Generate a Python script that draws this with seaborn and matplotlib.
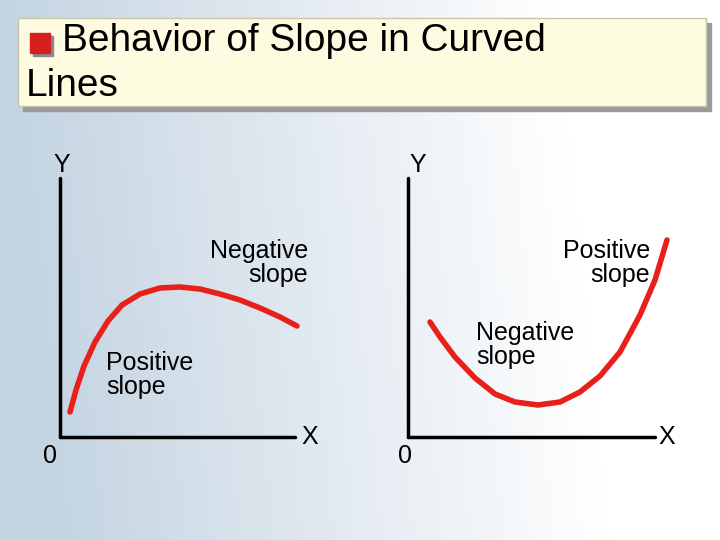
import numpy as np
import pandas as pd
import seaborn as sns
import matplotlib.pyplot as plt
from matplotlib.patches import Rectangle

title_line1 = "Behavior of Slope in Curved"
title_line2 = "Lines"
left_x = [70, 76, 84, 95, 108, 122, 140, 160, 180, 200, 220, 240, 260, 280, 297]
left_y = [412, 390, 366, 342, 321, 305, 294, 288, 287, 289, 294, 300, 308, 317, 326]
right_x = [430, 440, 455, 475, 495, 515, 538, 560, 580, 600, 620, 640, 655, 667]
right_y = [322, 337, 357, 378, 394, 402, 405, 402, 392, 376, 352, 315, 280, 240]

sns.set_theme(style="white")
plt.rcParams['font.family'] = ['Liberation Sans', 'DejaVu Sans']
plt.rcParams['text.color'] = 'black'
fig = plt.figure(figsize=(7.2, 5.4), dpi=100)
ax = fig.add_axes([0, 0, 1, 1])

# background gradient
gx = np.linspace(0, 1, 256)
gy = np.linspace(0, 1, 64)[:, None]
t = np.clip(gx[None, :] * 1.3 - 0.1 * gy, 0, 1)
c0 = np.array([196, 212, 226]) / 255; c1 = np.array([1, 1, 1])
img = c0[None, None, :] * (1 - t[..., None]) + c1[None, None, :] * t[..., None]
ax.imshow(img, extent=[0, 720, 540, 0], aspect='auto', zorder=0)

# title box
ax.add_patch(Rectangle((23, 23), 688, 88, color='#9a9a9a', zorder=1))
ax.add_patch(Rectangle((18, 18), 688, 88, facecolor='#fdfbe0', edgecolor='#c8c6a8', zorder=2))
ax.add_patch(Rectangle((33, 36), 20, 20, color='#8a8a8a', zorder=3))
ax.add_patch(Rectangle((30, 33), 20, 20, color='#d62020', zorder=3))
ax.text(62, 41, title_line1, fontsize=28, va='center', ha='left', zorder=4, color='black')
ax.text(26, 86, title_line2, fontsize=28, va='center', ha='left', zorder=4, color='black')

# axes lines
for x0, x1 in [(60, 295), (408, 655)]:
    ax.plot([x0, x0], [178, 437], color='black', lw=2.5, zorder=3)
    ax.plot([x0, x1], [437, 437], color='black', lw=2.5, zorder=3)

df_l = pd.DataFrame({'x': left_x, 'y': left_y})
df_r = pd.DataFrame({'x': right_x, 'y': right_y})
sns.lineplot(data=df_l, x='x', y='y', sort=False, color='#e8201c', lw=4, ax=ax, zorder=4)
sns.lineplot(data=df_r, x='x', y='y', sort=False, color='#e8201c', lw=4, ax=ax, zorder=4)
ax.set_xlim(0, 720); ax.set_ylim(540, 0); ax.axis('off')

fs = 18
kw = dict(fontsize=fs, color='black', linespacing=1.0)
ax.text(62, 165, 'Y', ha='center', va='center', **kw)
ax.text(418, 165, 'Y', ha='center', va='center', **kw)
ax.text(50, 456, '0', ha='center', va='center', **kw)
ax.text(405, 456, '0', ha='center', va='center', **kw)
ax.text(310, 437, 'X', ha='center', va='center', **kw)
ax.text(667, 437, 'X', ha='center', va='center', **kw)
ax.text(308, 263, 'Negative\nslope', ha='right', va='center', multialignment='right', **kw)
ax.text(106, 375, 'Positive\nslope', ha='left', va='center', **kw)
ax.text(650, 263, 'Positive\nslope', ha='right', va='center', multialignment='right', **kw)
ax.text(476, 345, 'Negative\nslope', ha='left', va='center', **kw)

fig.savefig('out.png', dpi=100)
